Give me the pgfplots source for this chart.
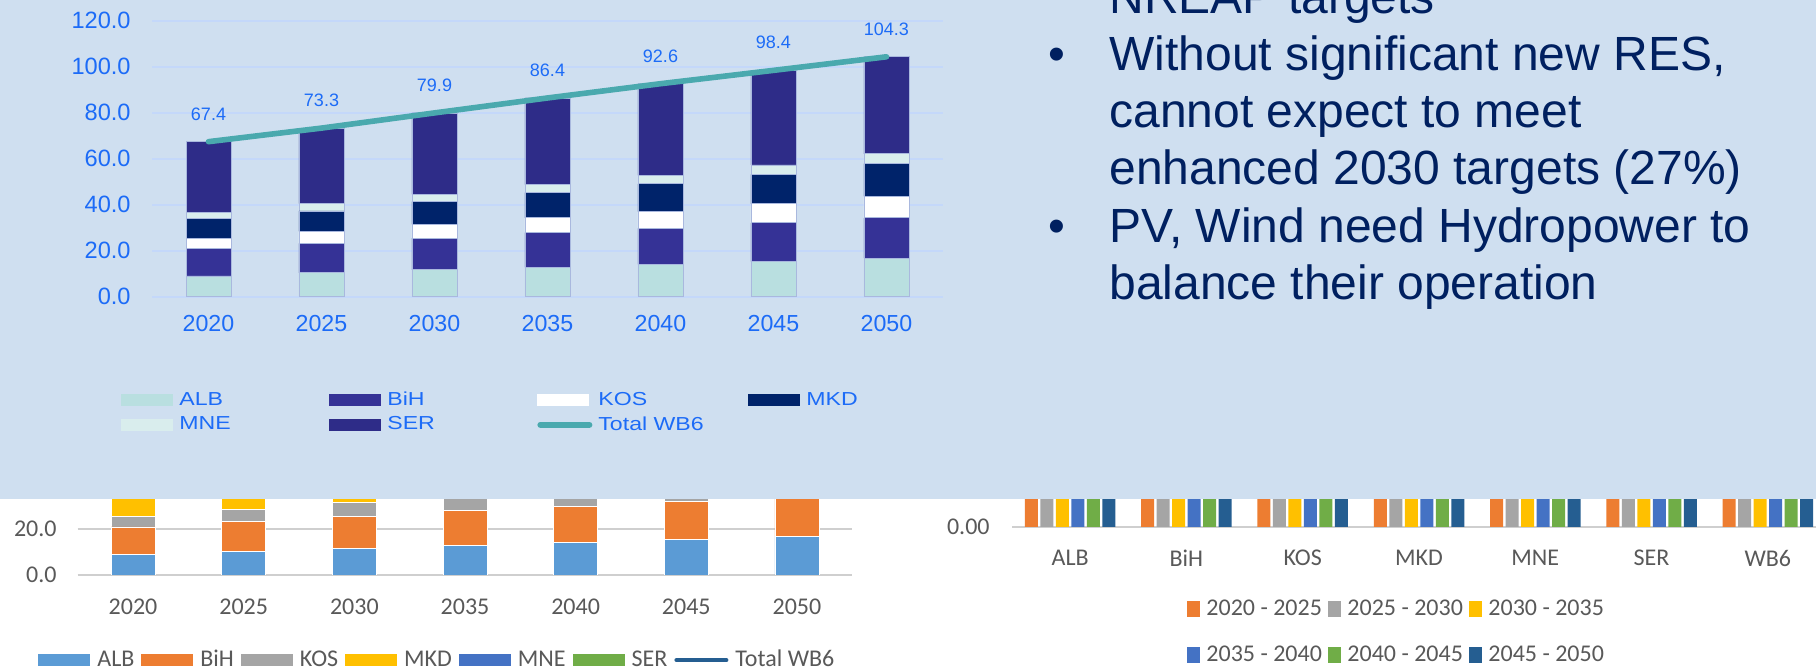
\documentclass[border=0pt]{standalone}
\usepackage{pgfplots}
\pgfplotsset{compat=1.18}
\usepackage{pgfplotstable}
\usepackage{fontspec}
\setmainfont{Liberation Sans}
\newfontfamily\carlito{Carlito}
\newfontfamily\legfont[FakeStretch=1.23]{Liberation Sans}
\definecolor{panelbg}{HTML}{CFDFF0}
\definecolor{gridblue}{HTML}{C4D8FA}
\definecolor{tickblue}{HTML}{1C6BF7}
\definecolor{barEdge}{HTML}{A9B8DE}
\definecolor{cALB}{HTML}{B9DFE0}
\definecolor{cBiH}{HTML}{353296}
\definecolor{cMKD}{HTML}{00236A}
\definecolor{cMNE}{HTML}{D9EDED}
\definecolor{cSER}{HTML}{2E2C88}
\definecolor{cTot}{HTML}{4AA9AE}
\definecolor{navy}{HTML}{002060}
\definecolor{oBlue}{HTML}{5B9BD5}
\definecolor{oOrange}{HTML}{ED7D31}
\definecolor{oGray}{HTML}{A5A5A5}
\definecolor{oYellow}{HTML}{FFC000}
\definecolor{oBlue2}{HTML}{4472C4}
\definecolor{oGreen}{HTML}{70AD47}
\definecolor{oDark}{HTML}{255E91}
\definecolor{oText}{HTML}{595959}
\definecolor{oGrid}{HTML}{CFCFCF}

\pgfplotstableread{
x ALB BiH KOS MKD MNE SER Total
0 9.0 11.9 4.6 8.5 2.6 30.8 67.4
1 10.4 12.8 5.2 8.9 3.2 32.8 73.3
2 11.7 13.8 5.9 9.9 3.2 35.4 79.9
3 12.8 15.1 6.4 10.9 3.5 37.7 86.4
4 14.0 15.7 7.3 12.1 3.7 39.8 92.6
5 15.3 16.8 8.3 12.8 4.1 41.1 98.4
6 16.8 17.5 9.3 14.3 4.2 42.2 104.3
}\wbdata

\pgfplotstableread{
x p1 p2 p3 p4 p5 p6
0 1.4 1.3 1.1 1.2 1.3 1.5
1 0.9 1.0 1.3 0.6 1.1 0.7
2 0.6 0.7 0.5 0.9 1.0 1.0
3 0.4 1.0 1.0 1.2 0.7 1.5
4 0.6 0.2 0.3 0.2 0.4 0.2
5 2.0 2.6 2.3 2.1 1.3 1.1
6 5.9 6.6 6.5 6.2 5.8 5.9
}\incdata

\pgfplotsset{
  topsw/.style={legend image code/.code={\fill[##1,draw=none] (0pt,-3pt) rectangle (26pt,3pt);}},
  topline/.style={legend image code/.code={\draw[##1,line width=3pt,line cap=round] (1.5pt,0pt) -- (26pt,0pt);}},
  blsw/.style={legend image code/.code={\fill[##1,draw=none] (0pt,-3pt) rectangle (26pt,3pt);}},
  blline/.style={legend image code/.code={\draw[##1,line width=2pt,line cap=round] (1pt,0pt) -- (26pt,0pt);}},
  brsw/.style={legend image code/.code={\fill[##1,draw=none] (0pt,-4pt) rectangle (6.5pt,4pt);}},
  topgeom/.style={at={(76pt,185.65pt)}, anchor=south west,
    scale only axis, width=395.5pt, height=138pt,
    xmin=-0.5, xmax=6.5, ymin=0, ymax=120},
}

\begin{document}
\begin{tikzpicture}[x=1pt,y=1pt]
\useasboundingbox (0,0) rectangle (908,334);
\fill[white] (0,0) rectangle (908,334);
\begin{scope}
\clip (0,0) rectangle (908,334);

% ---------- bottom-left chart (mostly hidden) ----------
\begin{axis}[
  at={(38.85pt,46.5pt)}, anchor=south west,
  scale only axis, width=387.3pt, height=46pt,
  xmin=-0.5, xmax=6.5, ymin=0, ymax=40,
  ybar stacked, bar width=22pt,
  axis line style={draw=none}, major tick length=0pt,
  ymajorgrids, grid style={oGrid, line width=1pt},
  ytick={0,20,40}, yticklabels={0.0,20.0,40.0},
  xtick={0,...,6}, xticklabels={2020,2025,2030,2035,2040,2045,2050},
  tick label style={font=\carlito\fontsize{12}{14}\selectfont, text=oText},
  yticklabel style={anchor=east, inner sep=0pt, xshift=-10.35pt},
  xticklabel style={anchor=center, inner sep=0pt, yshift=-16pt},
  legend columns=7,
  legend style={at={(-0.0513,-0.925)}, anchor=west, draw=none, fill=none,
    font=\carlito\fontsize{12}{14}\selectfont, text=oText,
    inner sep=0pt, column sep=0pt, nodes={inner sep=0pt},
    /tikz/every odd column/.append style={column sep=3.5pt},
    /tikz/every even column/.append style={column sep=3.5pt}},
]
\addplot[fill=oBlue, draw=white, line width=0.4pt, blsw] table[x=x,y=ALB]{\wbdata};
\addplot[fill=oOrange, draw=white, line width=0.4pt, blsw] table[x=x,y=BiH]{\wbdata};
\addplot[fill=oGray, draw=white, line width=0.4pt, blsw] table[x=x,y=KOS]{\wbdata};
\addplot[fill=oYellow, draw=white, line width=0.4pt, blsw] table[x=x,y=MKD]{\wbdata};
\addplot[fill=oBlue2, draw=white, line width=0.4pt, blsw] table[x=x,y=MNE]{\wbdata};
\addplot[fill=oGreen, draw=white, line width=0.4pt, blsw] table[x=x,y=SER]{\wbdata};
\addplot[stack plots=false, sharp plot, draw=oDark, line width=2pt, blline] table[x=x,y=Total]{\wbdata};
\legend{ALB,BiH,KOS,MKD,MNE,SER,Total WB6}
\end{axis}

% ---------- bottom-right chart (mostly hidden) ----------
\begin{axis}[
  at={(506pt,70.5pt)}, anchor=south west,
  scale only axis, width=407pt, height=200pt,
  xmin=-0.5, xmax=6.5, ymin=0, ymax=1,
  ybar=1.25pt, bar width=6.5pt,
  axis line style={draw=none}, major tick length=0pt,
  ymajorgrids, grid style={oGrid, line width=1pt},
  ytick={0}, yticklabels={0.00},
  xtick={0,...,6}, xticklabels={ALB,BiH,KOS,MKD,MNE,SER,WB6},
  tick label style={font=\carlito\fontsize{12}{14}\selectfont, text=oText},
  yticklabel style={anchor=east, inner sep=0pt, xshift=-11pt},
  xticklabel style={anchor=center, inner sep=0pt, yshift=-15.5pt},
  legend columns=3,
  legend style={at={(0.215,-0.263)}, anchor=west, draw=none, fill=none,
    font=\carlito\fontsize{12}{14}\selectfont, text=oText,
    inner sep=0pt, column sep=0pt, row sep=13.5pt, nodes={inner sep=0pt},
    /tikz/every odd column/.append style={column sep=3pt}},
]
\addplot[fill=oOrange, draw=none, brsw] table[x=x,y=p1]{\incdata};
\addplot[fill=oGray, draw=none, brsw] table[x=x,y=p2]{\incdata};
\addplot[fill=oYellow, draw=none, brsw] table[x=x,y=p3]{\incdata};
\addplot[fill=oBlue2, draw=none, brsw] table[x=x,y=p4]{\incdata};
\addplot[fill=oGreen, draw=none, brsw] table[x=x,y=p5]{\incdata};
\addplot[fill=oDark, draw=none, brsw] table[x=x,y=p6]{\incdata};
\addlegendentry{\makebox[61pt][l]{2020 - 2025}}
\addlegendentry{\makebox[61pt][l]{2025 - 2030}}
\addlegendentry{\makebox[61pt][l]{2030 - 2035}}
\addlegendentry{\makebox[61pt][l]{2035 - 2040}}
\addlegendentry{\makebox[61pt][l]{2040 - 2045}}
\addlegendentry{\makebox[61pt][l]{2045 - 2050}}
\end{axis}

% ---------- blue panel ----------
\fill[panelbg] (0,84.25) rectangle (908,334);

% ---------- top chart: stacked bars ----------
\begin{axis}[
  topgeom,
  ybar stacked, bar width=22.5pt,
  axis line style={draw=none}, major tick length=0pt,
  ymajorgrids, grid style={gridblue, line width=0.9pt},
  ytick={0,20,...,120}, yticklabels={0.0,20.0,40.0,60.0,80.0,100.0,120.0},
  xtick={0,...,6}, xticklabels={2020,2025,2030,2035,2040,2045,2050},
  yticklabel style={anchor=east, inner sep=0pt, xshift=-10.5pt, font=\fontsize{11.8}{13}\selectfont, text=tickblue},
  xticklabel style={anchor=center, inner sep=0pt, yshift=-13.65pt, font=\fontsize{11.6}{13}\selectfont, text=tickblue},
  clip=false,
  legend columns=4,
  legend style={at={(-0.0392,-0.4196)}, anchor=west, draw=none, fill=none,
    font=\legfont\fontsize{9.4}{11}\selectfont, text=tickblue,
    inner sep=0pt, column sep=0pt, row sep=4pt, nodes={inner sep=0pt},
    /tikz/every odd column/.append style={column sep=3pt}},
]
\addplot[fill=cALB, draw=barEdge, line width=0.4pt, topsw] table[x=x,y=ALB]{\wbdata};
\addplot[fill=cBiH, draw=barEdge, line width=0.4pt, topsw] table[x=x,y=BiH]{\wbdata};
\addplot[fill=white, draw=barEdge, line width=0.4pt, topsw] table[x=x,y=KOS]{\wbdata};
\addplot[fill=cMKD, draw=barEdge, line width=0.4pt, topsw] table[x=x,y=MKD]{\wbdata};
\addplot[fill=cMNE, draw=barEdge, line width=0.4pt, topsw] table[x=x,y=MNE]{\wbdata};
\addplot[fill=cSER, draw=barEdge, line width=0.4pt, topsw] table[x=x,y=SER]{\wbdata};
\addlegendimage{draw=cTot, topline}
\addlegendentry{\makebox[75pt][l]{ALB}}
\addlegendentry{\makebox[75pt][l]{BiH}}
\addlegendentry{\makebox[75pt][l]{KOS}}
\addlegendentry{\makebox[75pt][l]{MKD}}
\addlegendentry{\makebox[75pt][l]{MNE}}
\addlegendentry{\makebox[75pt][l]{SER}}
\addlegendentry{\makebox[75pt][l]{Total WB6}}
\end{axis}

% ---------- top chart: total line ----------
\begin{axis}[topgeom, hide axis, clip=false]
\addplot[draw=cTot, line width=2.8pt, line cap=round,
  point meta=explicit symbolic, nodes near coords,
  every node near coord/.append style={anchor=center, yshift=13.9pt, inner sep=0pt,
    font=\fontsize{9}{11}\selectfont, text=tickblue}]
  table[x=x,y=Total,meta=Total]{\wbdata};
\end{axis}

% ---------- bullet text ----------
\begin{scope}[every node/.style={inner sep=0pt, text=navy, font=\fontsize{24}{28}\selectfont}]
\node[anchor=base west] at (554.5,327.35) {NREAP targets};
\node[anchor=base] at (528.5,298.75) {•};
\node[anchor=base west] at (554.5,298.75) {Without significant new RES,};
\node[anchor=base west] at (554.5,270.15) {cannot expect to meet};
\node[anchor=base west] at (554.5,241.55) {enhanced 2030 targets (27\%)};
\node[anchor=base] at (528.5,212.95) {•};
\node[anchor=base west] at (554.5,212.95) {PV, Wind need Hydropower to};
\node[anchor=base west] at (554.5,184.35) {balance their operation};
\end{scope}
\end{scope}
\end{tikzpicture}
\end{document}
